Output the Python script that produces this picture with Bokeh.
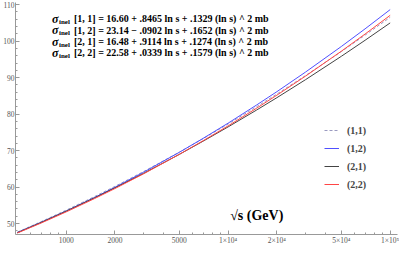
from bokeh.plotting import figure
from bokeh.models import FixedTicker, Label, Legend, LegendItem
from bokeh.core.properties import value
from bokeh.embed import file_html
from bokeh.resources import INLINE

# sqrt(s) in GeV
sqrt_s = [500, 700, 1000, 1500, 2000, 3000, 5000, 7000, 10000, 15000,
          20000, 30000, 50000, 70000, 100000]
# inelastic cross sections (mb)
sig_11 = [47.65, 50.51, 53.66, 57.41, 60.18, 64.23, 69.58, 73.26, 77.29, 82.03,
          85.51, 90.55, 97.15, 101.65, 106.55]
sig_12 = [47.54, 50.32, 53.43, 57.16, 59.95, 64.05, 69.54, 73.34, 77.53, 82.51,
          86.16, 91.51, 98.55, 103.37, 108.65]
sig_21 = [47.49, 50.29, 53.39, 57.07, 59.78, 63.74, 68.97, 72.57, 76.50, 81.13,
          84.51, 89.43, 95.86, 100.24, 105.01]
sig_22 = [47.40, 50.13, 53.19, 56.86, 59.59, 63.61, 68.98, 72.69, 76.78, 81.63,
          85.20, 90.40, 97.25, 101.95, 107.08]

series_labels = ["(1,1)", "(1,2)", "(2,1)", "(2,2)"]
formula_lines = [
    "[1, 1] = 16.60 + .8465 ln s + .1329 (ln s) ^ 2 mb",
    "[1, 2] = 23.14 \u2212 .0902 ln s + .1652 (ln s) ^ 2 mb",
    "[2, 1] = 16.48 + .9114 ln s + .1274 (ln s) ^ 2 mb",
    "[2, 2] = 22.58 + .0339 ln s + .1579 (ln s) ^ 2 mb",
]
formula_y = [106.1, 103.0, 99.9, 96.8]

x_major = [1000, 2000, 5000, 10000, 20000, 50000, 100000]
x_major_labels = ["1000", "2000", "5000", "1\u00d710\u2074", "2\u00d710\u2074",
                  "5\u00d710\u2074", "1\u00d710\u2075"]
x_minor = [600, 700, 800, 900, 3000, 4000, 6000, 7000, 8000, 9000,
           30000, 40000, 60000, 70000, 80000, 90000]
y_major = [50, 60, 70, 80, 90, 100, 110]
y_minor = [48, 52, 54, 56, 58, 62, 64, 66, 68, 72, 74, 76, 78, 82, 84, 86, 88,
           92, 94, 96, 98, 102, 104, 106, 108]

p = figure(width=399, height=247, x_axis_type="log",
           x_range=(487, 1.11e5), y_range=(47.0, 110.6),
           output_backend="svg", toolbar_location=None,
           min_border_left=0, min_border_right=2, min_border_top=2,
           min_border_bottom=0)
p.outline_line_color = None
p.xgrid.grid_line_color = None
p.ygrid.grid_line_color = None
p.background_fill_color = "white"
p.border_fill_color = "white"

p.xaxis.ticker = FixedTicker(ticks=x_major, minor_ticks=x_minor)
p.xaxis.major_label_overrides = {t: l for t, l in zip(x_major, x_major_labels)}
p.yaxis.ticker = FixedTicker(ticks=y_major, minor_ticks=y_minor)

for ax in (p.xaxis[0], p.yaxis[0]):
    ax.axis_label = None
    ax.axis_label_standoff = 0
    ax.axis_line_color = "#999999"
    ax.major_tick_line_color = "#999999"
    ax.minor_tick_line_color = "#999999"
    ax.major_tick_in = 4
    ax.major_tick_out = 0
    ax.minor_tick_in = 2
    ax.minor_tick_out = 0
    ax.major_label_text_font = "Liberation Serif"
    ax.major_label_text_font_size = "7.5px"
    ax.major_label_text_color = "#555555"
    ax.major_label_standoff = 1

r11 = p.line(sqrt_s, sig_11, line_color="#9a9ac0", line_width=1, line_dash="3 2")
r12 = p.line(sqrt_s, sig_12, line_color="#5050ff", line_width=1)
r21 = p.line(sqrt_s, sig_21, line_color="#444444", line_width=1)
r22 = p.line(sqrt_s, sig_22, line_color="#ff4545", line_width=1)

legend = Legend(items=[LegendItem(label=l, renderers=[r]) for l, r in
                       zip(series_labels, [r11, r12, r21, r22])],
                location=(309, 44))
legend.background_fill_alpha = 0
legend.border_line_color = None
legend.label_text_font = "Liberation Serif"
legend.label_text_font_style = "bold"
legend.label_text_font_size = "10px"
legend.glyph_width = 15
legend.glyph_height = 12
legend.label_height = 12
legend.spacing = 6
legend.padding = 0
legend.margin = 0
legend.label_standoff = 8
p.add_layout(legend)

fx = [690] * 4
p.text(x=fx, y=formula_y, text=["\u03c3"] * 4, x_offset=12,
       text_font=value("Liberation Serif"), text_font_style="bold italic",
       text_font_size="12px", text_baseline="middle", text_color="black")
p.text(x=fx, y=formula_y, text=["inel"] * 4, x_offset=19, y_offset=3,
       text_font=value("Liberation Serif"), text_font_style="bold",
       text_font_size="7px", text_baseline="middle", text_color="black")
p.text(x=fx, y=formula_y, text=formula_lines, x_offset=34,
       text_font=value("Liberation Serif"), text_font_style="bold",
       text_font_size="10px", text_baseline="middle", text_color="black")

p.add_layout(Label(x=10000, y=52.3, text="\u221as  (GeV)", x_offset=2,
                   text_font="Liberation Serif", text_font_style="bold",
                   text_font_size="14px", text_baseline="middle",
                   text_color="black"))

open("out.html", "w").write(file_html(p, INLINE))
